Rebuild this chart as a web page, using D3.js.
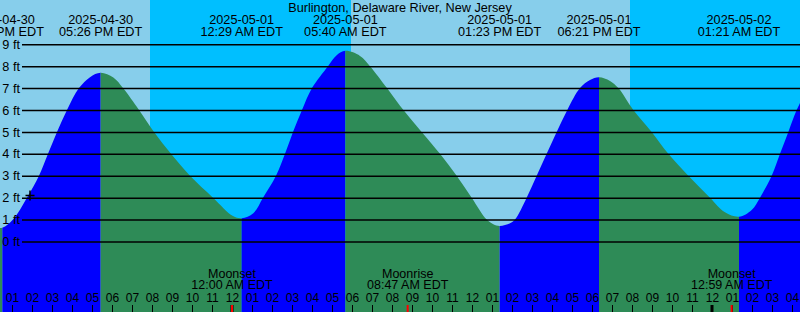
<!DOCTYPE html>
<html>
<head>
<meta charset="utf-8">
<script src="https://cdn.jsdelivr.net/npm/d3@7"></script>
<style>
  html, body { margin: 0; padding: 0; background: #fff; }
  svg { display: block; font-family: "Liberation Sans", Arial, sans-serif; }
</style>
</head>
<body>
<div id="chart"></div>
<script>
'use strict';

const title = 'Burlington, Delaware River, New Jersey';

// tide height readings (ft)
const tideTimes = [
  '2025-04-30 12:00', '2025-04-30 12:31', '2025-04-30 13:03', '2025-04-30 13:45', '2025-04-30 14:21',
  '2025-04-30 14:48', '2025-04-30 15:15', '2025-04-30 15:45', '2025-04-30 16:21', '2025-04-30 16:54',
  '2025-04-30 17:26', '2025-04-30 18:04', '2025-04-30 18:33', '2025-04-30 19:21', '2025-04-30 20:06',
  '2025-04-30 20:57', '2025-04-30 21:54', '2025-04-30 23:03', '2025-05-01 00:03', '2025-05-01 00:29',
  '2025-05-01 01:04', '2025-05-01 01:33', '2025-05-01 02:12', '2025-05-01 02:39', '2025-05-01 03:03',
  '2025-05-01 03:30', '2025-05-01 04:00', '2025-05-01 04:48', '2025-05-01 05:14', '2025-05-01 05:40',
  '2025-05-01 06:24', '2025-05-01 06:54', '2025-05-01 07:45', '2025-05-01 08:24', '2025-05-01 09:29',
  '2025-05-01 10:24', '2025-05-01 11:14', '2025-05-01 11:59', '2025-05-01 12:44', '2025-05-01 13:04',
  '2025-05-01 13:23', '2025-05-01 13:54', '2025-05-01 14:09', '2025-05-01 14:44', '2025-05-01 15:14',
  '2025-05-01 15:44', '2025-05-01 16:14', '2025-05-01 16:46', '2025-05-01 17:24', '2025-05-01 17:54',
  '2025-05-01 18:21', '2025-05-01 18:54', '2025-05-01 19:19', '2025-05-01 20:04', '2025-05-01 20:59',
  '2025-05-01 21:49', '2025-05-01 22:49', '2025-05-01 23:54', '2025-05-02 00:39', '2025-05-02 01:21',
  '2025-05-02 01:59', '2025-05-02 02:24', '2025-05-02 02:59', '2025-05-02 03:24', '2025-05-02 03:49',
  '2025-05-02 04:14', '2025-05-02 04:40',
];
const tideFeet = [
  0.68, 0.63, 1.0, 2.0, 3.0,
  4.0, 5.0, 6.0, 7.0, 7.5,
  7.7, 7.48, 7.0, 6.0, 5.0,
  4.0, 3.0, 2.0, 1.16, 1.06,
  1.29, 2.0, 3.0, 4.0, 5.0,
  6.0, 7.0, 8.0, 8.5, 8.7,
  8.47, 8.0, 7.0, 6.2, 5.0,
  4.0, 3.0, 2.0, 1.0, 0.79,
  0.71, 0.83, 1.0, 2.0, 3.0,
  4.0, 5.0, 6.0, 7.0, 7.37,
  7.5, 7.33, 7.0, 6.0, 5.0,
  4.0, 3.0, 2.0, 1.33, 1.13,
  1.44, 2.0, 3.0, 4.0, 5.0,
  6.0, 6.8,
];

// high / low tide events
const hiloTimes = [
  '2025-04-30 12:31', '2025-04-30 17:26', '2025-05-01 00:29', '2025-05-01 05:40',
  '2025-05-01 13:23', '2025-05-01 18:21', '2025-05-02 01:21',
];
const hiloTypes = ['L', 'H', 'L', 'H', 'L', 'H', 'L'];

// sunrise / sunset
const sunTimes = ['2025-04-30 19:54', '2025-05-01 05:57', '2025-05-01 19:54'];
const sunTypes = ['set', 'rise', 'set'];

// moon events
const moonTimes = ['2025-05-01 00:00', '2025-05-01 08:47', '2025-05-02 00:59'];
const moonNames = ['Moonset', 'Moonrise', 'Moonset'];

// current reading marker
const nowTime = '2025-04-30 13:54';
const nowFeet = 2.1;

const feetTicks = [0, 1, 2, 3, 4, 5, 6, 7, 8, 9];

const width = 800;
const height = 312;

const parse = d3.timeParse('%Y-%m-%d %H:%M');
const tide = tideTimes.map((t, i) => ({ date: parse(t), ft: tideFeet[i] }));
const hilo = hiloTimes.map((t, i) => ({ date: parse(t), type: hiloTypes[i] }));

const x = d3.scaleTime()
  .domain([parse('2025-04-30 12:24'), parse('2025-05-02 04:24')])
  .range([0, width]);

const y = d3.scaleLinear()
  .domain([0, 9])
  .range([241.5, 44.3]);

const svg = d3.select('#chart')
  .append('svg')
  .attr('width', width)
  .attr('height', height);

// day / night background
const dayColor = '#87ceeb';
const nightColor = '#00bfff';
const sunEdges = [x.domain()[0], ...sunTimes.map(parse), x.domain()[1]];
const sunBands = d3.pairs(sunEdges).map(([a, b], i) => ({
  a, b, night: i < sunTypes.length ? sunTypes[i] === 'rise' : sunTypes[sunTypes.length - 1] === 'set',
}));

svg.selectAll('rect.sky')
  .data(sunBands)
  .join('rect')
  .attr('class', 'sky')
  .attr('x', (d) => x(d.a))
  .attr('y', 0)
  .attr('width', (d) => x(d.b) - x(d.a))
  .attr('height', height)
  .attr('fill', (d) => d.night ? nightColor : dayColor);

// tide area, split into rising (blue) and falling (green) parts
const area = d3.area()
  .x((d) => x(d.date))
  .y0(height)
  .y1((d) => y(d.ft))
  .curve(d3.curveCatmullRom.alpha(0.5));

const edges = [x.domain()[0], ...hilo.map((d) => d.date), x.domain()[1]];
const segments = d3.pairs(edges).map(([a, b], i) => {
  // a segment that ends at a high tide is rising
  const rising = i < hilo.length ? hilo[i].type === 'H' : hilo[hilo.length - 1].type === 'L';
  return { a, b, rising };
});

const defs = svg.append('defs');
segments.forEach((s, i) => {
  defs.append('clipPath')
    .attr('id', `seg-${i}`)
    .append('rect')
    .attr('x', x(s.a))
    .attr('y', 0)
    .attr('width', Math.max(0, x(s.b) - x(s.a)))
    .attr('height', height);

  svg.append('path')
    .datum(tide)
    .attr('clip-path', `url(#seg-${i})`)
    .attr('fill', s.rising ? '#0000ff' : '#2e8b57')
    .attr('d', area);
});

// horizontal grid with ft labels
const yAxis = d3.axisLeft(y)
  .tickValues(feetTicks)
  .tickSize(width - 22)
  .tickPadding(2)
  .tickFormat((d) => `${d} ft`);

svg.append('g')
  .attr('transform', `translate(${width}, 0)`)
  .call(yAxis)
  .call((g) => g.select('.domain').remove())
  .call((g) => g.selectAll('line').attr('stroke', '#000').attr('stroke-width', 1.5))
  .call((g) => g.selectAll('text')
    .attr('fill', '#000')
    .style('font-family', '"Liberation Sans", Arial, sans-serif')
    .style('font-size', '12.7px'));

// current reading cross
svg.append('g')
  .attr('transform', `translate(${x(parse(nowTime))}, ${y(nowFeet)})`)
  .call((g) => {
    g.append('line').attr('x1', -4.5).attr('x2', 4.5).attr('y1', 0).attr('y2', 0);
    g.append('line').attr('x1', 0).attr('x2', 0).attr('y1', -5).attr('y2', 5);
  })
  .selectAll('line')
  .attr('stroke', '#000')
  .attr('stroke-width', 1.5);

// title
svg.append('text')
  .attr('x', width / 2)
  .attr('y', 11.5)
  .attr('text-anchor', 'middle')
  .style('font-size', '12.7px')
  .text(title);

// high / low labels
const formatDay = d3.timeFormat('%Y-%m-%d');
const formatTime = d3.timeFormat('%I:%M %p EDT');

const hiloLabels = svg.selectAll('g.hilo')
  .data(hilo)
  .join('g')
  .attr('class', 'hilo')
  .attr('transform', (d) => `translate(${x(d.date)}, 0)`)
  .attr('text-anchor', 'middle')
  .style('font-size', '12.7px');

hiloLabels.append('text').attr('y', 24.3).text((d) => formatDay(d.date));
hiloLabels.append('text').attr('y', 36).text((d) => formatTime(d.date));

// hour axis along the bottom
const xAxis = d3.axisTop(x)
  .ticks(d3.timeHour.every(1))
  .tickSize(7)
  .tickPadding(3)
  .tickFormat(d3.timeFormat('%I'));

svg.append('g')
  .attr('transform', `translate(0, ${height})`)
  .call(xAxis)
  .call((g) => g.select('.domain').remove())
  .call((g) => g.selectAll('line').attr('stroke', '#000'))
  .call((g) => g.selectAll('text')
    .attr('fill', '#000')
    .style('font-family', '"Liberation Sans", Arial, sans-serif')
    .style('font-size', '12px'));

// midnight ticks
svg.selectAll('line.midnight')
  .data(d3.timeDay.range(x.domain()[0], x.domain()[1]))
  .join('line')
  .attr('class', 'midnight')
  .attr('x1', (d) => x(d))
  .attr('x2', (d) => x(d))
  .attr('y1', height - 7)
  .attr('y2', height)
  .attr('stroke', '#000')
  .attr('stroke-width', 3);

// moon events
const moon = moonTimes.map((t, i) => ({ date: parse(t), name: moonNames[i] }));

svg.selectAll('line.moon')
  .data(moon)
  .join('line')
  .attr('class', 'moon')
  .attr('x1', (d) => x(d.date))
  .attr('x2', (d) => x(d.date))
  .attr('y1', height - 7)
  .attr('y2', height)
  .attr('stroke', '#ff0000')
  .attr('stroke-width', 2);

const moonLabels = svg.selectAll('g.moonlabel')
  .data(moon)
  .join('g')
  .attr('class', 'moonlabel')
  .attr('transform', (d) => `translate(${x(d.date)}, 0)`)
  .attr('text-anchor', 'middle')
  .style('font-size', '12.5px');

moonLabels.append('text').attr('y', 277.7).text((d) => d.name);
moonLabels.append('text').attr('y', 289).text((d) => formatTime(d.date));
</script>
</body>
</html>
